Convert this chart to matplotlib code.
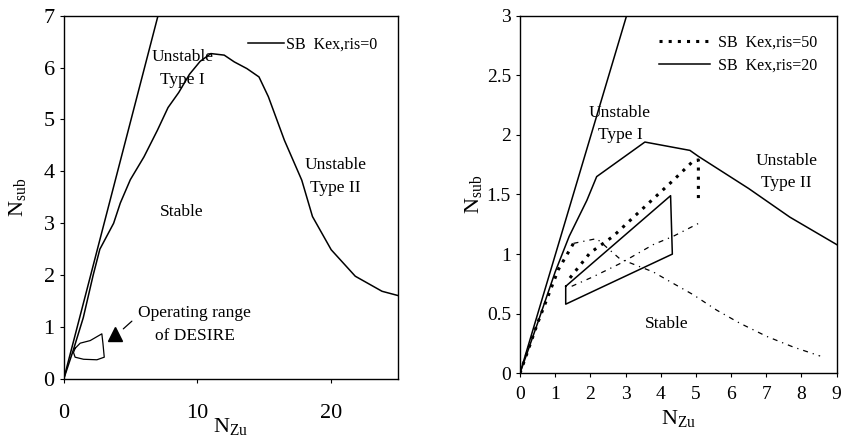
import matplotlib
matplotlib.use("Agg")
import matplotlib.pyplot as plt

plt.rcParams['font.family'] = ['Liberation Serif', 'DejaVu Serif']
plt.rcParams['mathtext.fontset'] = 'custom'
plt.rcParams['mathtext.rm'] = 'Liberation Serif'
plt.rcParams['mathtext.it'] = 'Liberation Serif:italic'

# ---------------- left panel data ----------------
left_line_x = [0, 7.05]
left_line_y = [0, 7.0]
sb0_x = [0, 0.72, 1.46, 2.2, 2.7, 3.73, 4.23, 4.98, 6.0, 7.0, 7.8, 8.6, 9.4, 10.2, 11.0,
         12.0, 12.75, 13.7, 14.6, 15.3, 16.5, 17.8, 18.6, 20.0, 21.8, 23.8, 25.4]
sb0_y = [0, 0.56, 1.18, 2.0, 2.5, 3.0, 3.39, 3.84, 4.28, 4.79, 5.23, 5.52, 5.87, 6.12, 6.27,
         6.24, 6.11, 5.98, 5.82, 5.44, 4.6, 3.83, 3.13, 2.49, 1.98, 1.69, 1.58]
desire_x = [0.85, 1.23, 1.98, 2.85, 2.93, 3.03, 2.48, 1.48, 0.85, 0.73, 0.85]
desire_y = [0.59, 0.69, 0.74, 0.87, 0.69, 0.42, 0.37, 0.38, 0.42, 0.51, 0.59]
marker_xy = (3.86, 0.86)
left_xticks = [0, 10, 20]
left_yticks = [0, 1, 2, 3, 4, 5, 6, 7]

# ---------------- right panel data ----------------
right_line_x = [0, 3.03]
right_line_y = [0, 3.0]
sb20_x = [0, 0.5, 1.0, 1.4, 1.9, 2.18, 3.55, 4.83, 5.07, 6.5, 7.67, 9.0]
sb20_y = [0, 0.42, 0.85, 1.15, 1.45, 1.65, 1.94, 1.87, 1.82, 1.55, 1.31, 1.08]
sb50_rise_x = [0, 0.5, 1.09, 1.52]
sb50_rise_y = [0, 0.42, 0.87, 1.09]
sb50_fall_x = [1.52, 2.18, 2.84, 3.79, 4.26, 4.92, 5.59, 6.25, 7.01, 7.77, 8.53]
sb50_fall_y = [1.09, 1.13, 0.96, 0.85, 0.77, 0.66, 0.53, 0.42, 0.31, 0.22, 0.145]
sb50_upper_x = [1.42, 1.99, 2.65, 3.41, 4.36, 4.92, 5.07, 5.07]
sb50_upper_y = [0.80, 1.01, 1.15, 1.36, 1.62, 1.78, 1.79, 1.45]
sb50_lower_x = [1.47, 2.08, 2.84, 3.79, 4.36, 5.09]
sb50_lower_y = [0.73, 0.81, 0.92, 1.08, 1.15, 1.26]
oper_x = [1.30, 4.28, 4.33, 1.30, 1.30]
oper_y = [0.73, 1.49, 1.00, 0.58, 0.73]
right_xticks = [0, 1, 2, 3, 4, 5, 6, 7, 8, 9]
right_yticks = [0, 0.5, 1, 1.5, 2, 2.5, 3]
right_yticklabels = ['0', '0.5', '1', '1.5', '2', '2.5', '3']

fig = plt.figure(figsize=(8.43, 4.43), dpi=100)
axL = fig.add_axes([0.0756, 0.1445, 0.3966, 0.8201])
axR = fig.add_axes([0.6168, 0.1573, 0.3757, 0.8073])

ANN_FS = 12.5
LEG_FS = 11.5
LS = 1.55
for ax in (axL, axR):
    ax.tick_params(direction='out', length=3, width=0.8)
    for s in ax.spines.values():
        s.set_linewidth(1.0)
axL.tick_params(labelsize=16)
axR.tick_params(labelsize=14)

# left
axL.plot(left_line_x, left_line_y, color='black', lw=1.1)
axL.plot(sb0_x, sb0_y, color='black', lw=1.1, label='SB  Kex,ris=0')
axL.plot(desire_x, desire_y, color='black', lw=0.9)
axL.plot([marker_xy[0]], [marker_xy[1]], marker='^', color='black', ms=10, ls='none')
axL.annotate('', xy=(4.3, 0.93), xytext=(5.25, 1.15),
             arrowprops=dict(arrowstyle='-', color='black', lw=0.9))
axL.set_xlim(0, 25)
axL.set_ylim(0, 7)
axL.set_xticks(left_xticks)
axL.set_yticks(left_yticks)
axL.tick_params(axis='x', pad=15)
axL.set_xlabel(r'$\mathrm{N_{Zu}}$', fontsize=16, labelpad=-5)
axL.set_ylabel(r'$\mathrm{N_{sub}}$', fontsize=16, labelpad=11)
axL.text(8.9, 5.98, 'Unstable\nType I', fontsize=ANN_FS, ha='center', va='center', linespacing=LS)
axL.text(20.3, 3.9, 'Unstable\nType II', fontsize=ANN_FS, ha='center', va='center', linespacing=LS)
axL.text(8.8, 3.21, 'Stable', fontsize=ANN_FS, ha='center', va='center')
axL.text(9.8, 1.05, 'Operating range\nof DESIRE', fontsize=ANN_FS, ha='center', va='center', linespacing=LS)
axL.legend(loc='upper right', frameon=False, fontsize=LEG_FS, handlelength=2.3,
           handletextpad=0.1, borderaxespad=0.9)

# right
axR.plot(right_line_x, right_line_y, color='black', lw=1.1)
axR.plot(sb20_x, sb20_y, color='black', lw=1.1, label='SB  Kex,ris=20')
axR.plot(sb50_rise_x, sb50_rise_y, color='black', lw=2.2, ls=(0, (1, 2)),
         label='SB  Kex,ris=50')
axR.plot(sb50_fall_x, sb50_fall_y, color='black', lw=0.9, ls=(0, (4, 4, 1, 4)))
axR.plot(sb50_upper_x, sb50_upper_y, color='black', lw=2.2, ls=(0, (1, 2)))
axR.plot(sb50_lower_x, sb50_lower_y, color='black', lw=0.9, ls=(0, (4, 4, 1, 4)))
axR.plot(oper_x, oper_y, color='black', lw=1.1)
axR.set_xlim(0, 9)
axR.set_ylim(0, 3)
axR.set_xticks(right_xticks)
axR.set_yticks(right_yticks)
axR.set_yticklabels(right_yticklabels)
axR.tick_params(axis='x', pad=6)
axR.set_xlabel(r'$\mathrm{N_{Zu}}$', fontsize=16, labelpad=4)
axR.set_ylabel(r'$\mathrm{N_{sub}}$', fontsize=16, labelpad=2)
axR.text(2.84, 2.09, 'Unstable\nType I', fontsize=ANN_FS, ha='center', va='center', linespacing=LS)
axR.text(7.58, 1.69, 'Unstable\nType II', fontsize=ANN_FS, ha='center', va='center', linespacing=LS)
axR.text(4.17, 0.41, 'Stable', fontsize=ANN_FS, ha='center', va='center')
h, l = axR.get_legend_handles_labels()
axR.legend([h[1], h[0]], [l[1], l[0]], loc='upper right', frameon=False, fontsize=LEG_FS,
           handlelength=3.2, handletextpad=0.5, borderaxespad=0.8, labelspacing=0.45)

fig.savefig('out.png', dpi=100)
